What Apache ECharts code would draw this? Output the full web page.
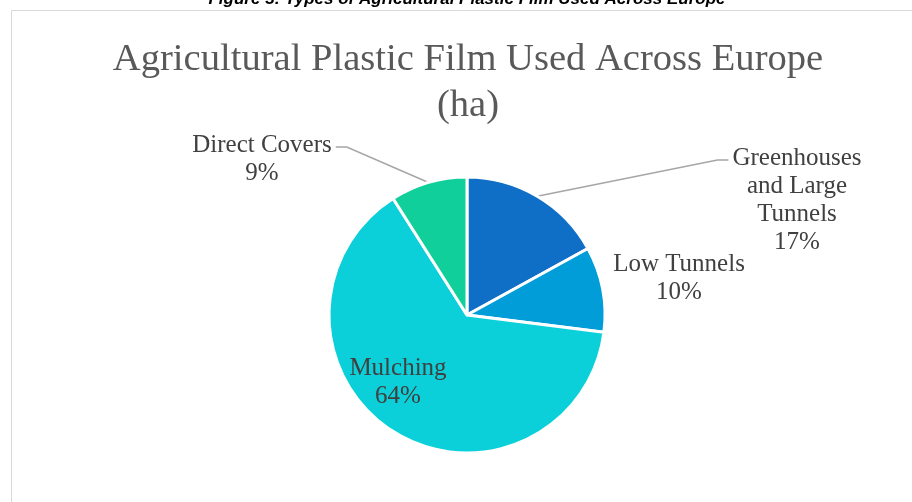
<!DOCTYPE html>
<html>
<head>
<meta charset="utf-8">
<title>Agricultural Plastic Film Used Across Europe</title>
<script src="https://cdn.jsdelivr.net/npm/echarts@6/dist/echarts.min.js"></script>
<style>
  html, body { margin: 0; padding: 0; background: #ffffff; }
  #chart { width: 912px; height: 502px; }
</style>
</head>
<body>
<div id="chart"></div>
<script>
// data
const categories = ['Greenhouses and Large Tunnels', 'Low Tunnels', 'Mulching', 'Direct Covers'];
const shareValues = [17, 10, 64, 9];
const sliceColors = ['#0f6fc6', '#009dd9', '#0bd0d9', '#10cf9b'];
// how each name is broken on its label
const labelNames = ['Greenhouses\nand Large\nTunnels', 'Low Tunnels', 'Mulching', 'Direct Covers'];

const chart = echarts.init(document.getElementById('chart'));

const serif = "'Liberation Serif', 'Times New Roman', serif";

// where the label blocks sit (centre of the text block)
const labelSpots = [
  { x: 797, y: 200, line: true },
  { x: 679, y: 278, line: false },
  { x: 398, y: 382, line: false },
  { x: 262, y: 159, line: true }
];

const option = {
  animation: false,
  graphic: [
    {
      // chart frame
      type: 'rect',
      shape: { x: 11.5, y: 10.5, width: 1000, height: 600 },
      style: { fill: 'none', stroke: '#d9d9d9', lineWidth: 1 },
      silent: true
    },
    {
      // caption of the figure, cut off at the top
      type: 'text',
      x: 467,
      y: 8,
      style: {
        text: 'Figure 3: Types of Agricultural Plastic Film Used Across Europe',
        font: "italic bold 17px 'Liberation Sans', Arial, sans-serif",
        fill: '#000000',
        textAlign: 'center',
        textVerticalAlign: 'bottom'
      },
      silent: true
    },
    {
      type: 'text',
      x: 468,
      y: 83,
      style: {
        text: 'Agricultural Plastic Film Used Across Europe\n(ha)',
        font: '38.6px ' + serif,
        fill: '#595959',
        lineHeight: 46,
        textAlign: 'center',
        textVerticalAlign: 'middle'
      },
      silent: true
    }
  ],
  series: [
    {
      type: 'pie',
      center: [467, 315],
      radius: 138,
      startAngle: 90,
      clockwise: true,
      percentPrecision: 0,
      itemStyle: { borderColor: '#ffffff', borderWidth: 3 },
      label: {
        show: true,
        position: 'outside',
        fontFamily: serif,
        fontSize: 25,
        lineHeight: 28,
        color: '#404040',
        align: 'center',
        formatter: (p) => labelNames[p.dataIndex] + '\n' + p.percent + '%'
      },
      labelLine: {
        show: true,
        lineStyle: { color: '#a6a6a6', width: 1.5 }
      },
      labelLayout: (params) => {
        const spot = labelSpots[params.dataIndex];
        const out = { x: spot.x, y: spot.y, align: 'center', verticalAlign: 'middle' };
        if (spot.line && params.labelLinePoints) {
          const start = params.labelLinePoints[0];
          const w = params.labelRect.width;
          // elbow sits just beside the first line of the label
          const firstLineY = spot.y - params.labelRect.height / 2 + 16;
          const side = start[0] < spot.x ? -1 : 1;
          const endX = spot.x + side * (w / 2 + 4);
          out.labelLinePoints = [start, [endX + side * 11, firstLineY], [endX, firstLineY]];
        }
        return out;
      },
      data: categories.map((name, i) => ({
        name: name,
        value: shareValues[i],
        itemStyle: { color: sliceColors[i] },
        labelLine: { show: labelSpots[i].line }
      }))
    }
  ]
};

chart.setOption(option);
</script>
</body>
</html>
